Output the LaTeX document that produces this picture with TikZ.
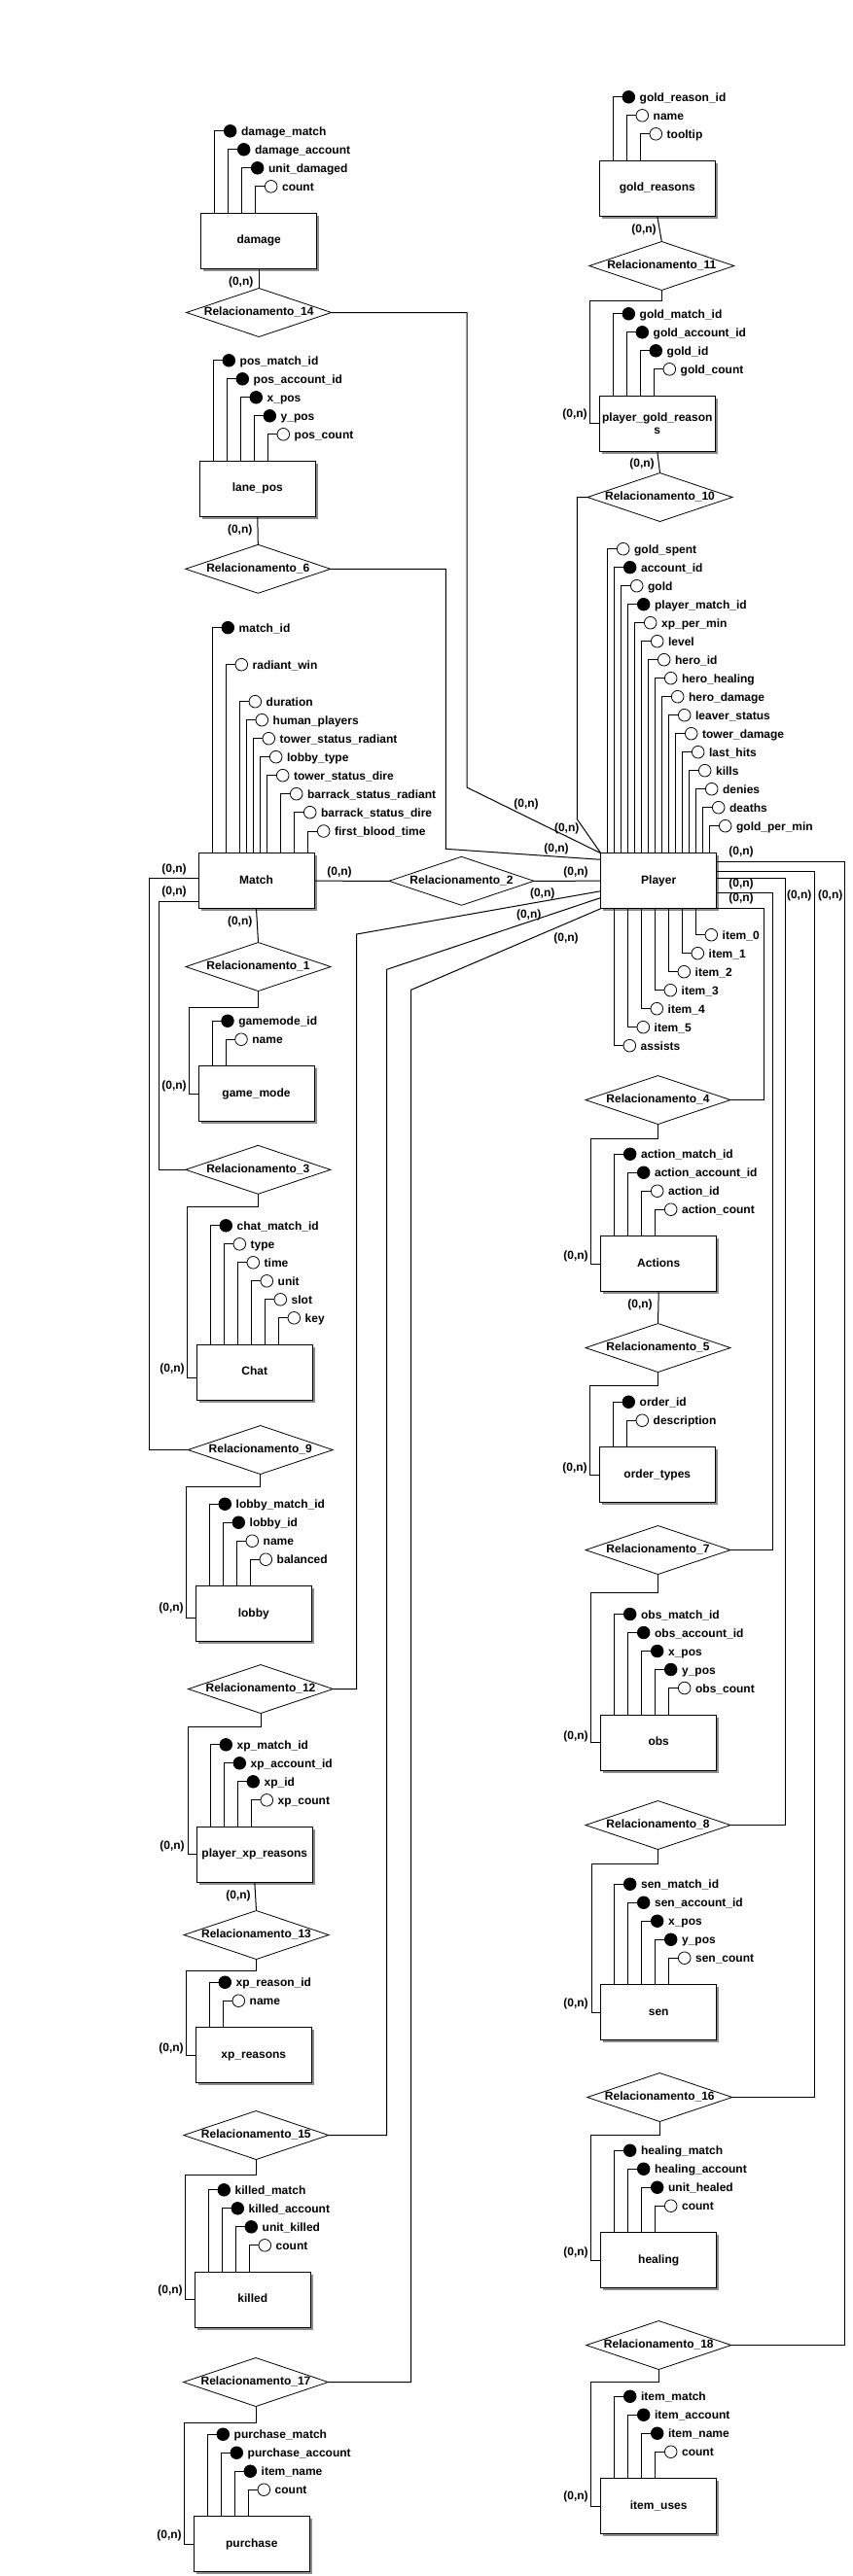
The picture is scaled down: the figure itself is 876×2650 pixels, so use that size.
\documentclass[tikz,border=0pt]{standalone}
\usepackage{fontspec}
\setmainfont{Liberation Sans}
\usetikzlibrary{shapes.geometric,shadows}
\colorlet{attrf}{black}
\colorlet{attro}{white}
\tikzset{
  conn/.style={draw=black, line width=1pt},
  entbase/.style={rectangle, draw=black, line width=1pt, fill=white, minimum width=119pt, minimum height=57pt, inner sep=0pt, outer sep=0pt, anchor=north west, drop shadow={shadow xshift=2.5pt, shadow yshift=-2.5pt, fill=black!45, opacity=1}},
  ent/.style={entbase, text height=8pt, text depth=2pt},
  rel/.style={diamond, draw=black, line width=0.8pt, fill=white, minimum width=149pt, minimum height=50pt, inner sep=0pt, outer sep=0pt, text height=8pt, text depth=2pt},
  atc/.style={circle, draw=black, line width=0.8pt, minimum size=12.6pt, inner sep=0pt, outer sep=0pt},
  attext/.style={anchor=base west, inner sep=0pt, outer sep=0pt},
  card/.style={inner sep=0pt, text height=8pt, text depth=2pt},
}
% #1 entity, #2 id, #3 anchor, #4 x of vertical, #5 y of circle, #6 f/o, #7 text
\newcommand\erattr[7]{%
  \node[atc, fill=attr#6] (#1-a#2) at (#4+16,#5) {};
  \node[attext] (#1-t#2) at (#4+27.4,#5+4.5) {#7};
  \draw[conn] (#1.#3 -| #4,0) |- (#1-a#2.west);
}
% #1 entity, #2 left, #3 top, #4 n, #5 list
\newcommand\eratts[5]{%
  \foreach \ty/\tx [count=\i from 0] in {#5} {
    \pgfmathsetmacro\vx{#2+14*(\i+1)}
    \pgfmathsetmacro\cy{#3-27.5-19*(#4-1-\i)}
    \erattr{#1}{\i}{north}{\vx}{\cy}{\ty}{\tx}
  }}
\begin{document}
\begin{tikzpicture}[x=1pt,y=-1pt,font=\fontsize{12}{14}\selectfont\bfseries]
\fill[white] (0,0) rectangle (876,2650);
\useasboundingbox (0,0) rectangle (876,2650);

% ---------- entities ----------
\node[ent] (damage) at (206.7,219.3) {damage};
\node[ent] (lanepos) at (205.3,474.3) {lane\_pos};
\node[ent] (match) at (204,877.7) {Match};
\node[ent] (gamemode) at (204,1096.7) {game\_mode};
\node[ent] (chat) at (202.3,1383.3) {Chat};
\node[ent] (lobby) at (201.3,1631.7) {lobby};
\node[ent] (pxr) at (202.3,1879.3) {player\_xp\_reasons};
\node[ent] (xpr) at (201.3,2085.7) {xp\_reasons};
\node[ent] (killed) at (200.3,2337.3) {killed};
\node[ent] (purchase) at (199.3,2588.7) {purchase};
\node[ent] (goldr) at (616.3,165.3) {gold\_reasons};
\node[entbase, align=center, font=\fontsize{12}{12.3}\selectfont\bfseries] (pgr) at (616.3,407.3) {player\_gold\_reason\\s};
\node[ent] (player) at (617.7,877.7) {Player};
\node[ent] (actions) at (617.7,1271.7) {Actions};
\node[ent] (ordert) at (616.3,1488.7) {order\_types};
\node[ent] (obs) at (617.7,1764) {obs};
\node[ent] (sen) at (617.7,2041.7) {sen};
\node[ent] (healing) at (617.7,2296.7) {healing};
\node[ent] (itemuses) at (617.7,2549.7) {item\_uses};

% ---------- relationships ----------
\node[rel] (r14) at (266.2,321.5) {\makebox[0pt]{Relacionamento\_14}};
\node[rel] (r6) at (265.3,585.3) {\makebox[0pt]{Relacionamento\_6}};
\node[rel] (r1) at (265.5,994.5) {\makebox[0pt]{Relacionamento\_1}};
\node[rel] (r3) at (265.3,1203.3) {\makebox[0pt]{Relacionamento\_3}};
\node[rel] (r9) at (267.7,1491.5) {\makebox[0pt]{Relacionamento\_9}};
\node[rel] (r12) at (268,1737.5) {\makebox[0pt]{Relacionamento\_12}};
\node[rel] (r13) at (263.5,1990.5) {\makebox[0pt]{Relacionamento\_13}};
\node[rel] (r15) at (263.3,2196.5) {\makebox[0pt]{Relacionamento\_15}};
\node[rel] (r17) at (263,2450.5) {\makebox[0pt]{Relacionamento\_17}};
\node[rel] (r2) at (474.5,906.3) {\makebox[0pt]{Relacionamento\_2}};
\node[rel] (r11) at (680.3,273.5) {\makebox[0pt]{Relacionamento\_11}};
\node[rel] (r10) at (678.5,511.5) {\makebox[0pt]{Relacionamento\_10}};
\node[rel] (r4) at (676.5,1131.5) {\makebox[0pt]{Relacionamento\_4}};
\node[rel] (r5) at (676.5,1386.5) {\makebox[0pt]{Relacionamento\_5}};
\node[rel] (r7) at (676.5,1594.5) {\makebox[0pt]{Relacionamento\_7}};
\node[rel] (r8) at (676.5,1877.5) {\makebox[0pt]{Relacionamento\_8}};
\node[rel] (r16) at (678.3,2157.5) {\makebox[0pt]{Relacionamento\_16}};
\node[rel] (r18) at (677.3,2412.5) {\makebox[0pt]{Relacionamento\_18}};

% ---------- attributes ----------
\eratts{damage}{206.7}{219.3}{4}{f/damage\_match, f/damage\_account, f/unit\_damaged, o/count}
\eratts{lanepos}{205.3}{474.3}{5}{f/pos\_match\_id, f/pos\_account\_id, f/x\_pos, f/y\_pos, o/pos\_count}
\eratts{gamemode}{204}{1096.7}{2}{f/gamemode\_id, o/name}
\eratts{chat}{202.3}{1383.3}{6}{f/chat\_match\_id, o/type, o/time, o/unit, o/slot, o/key}
\eratts{lobby}{201.3}{1631.7}{4}{f/lobby\_match\_id, f/lobby\_id, o/name, o/balanced}
\eratts{pxr}{202.3}{1879.3}{4}{f/xp\_match\_id, f/xp\_account\_id, f/xp\_id, o/xp\_count}
\eratts{xpr}{201.3}{2085.7}{2}{f/xp\_reason\_id, o/name}
\eratts{killed}{200.3}{2337.3}{4}{f/killed\_match, f/killed\_account, f/unit\_killed, o/count}
\eratts{purchase}{199.3}{2588.7}{4}{f/purchase\_match, f/purchase\_account, f/item\_name, o/count}
\eratts{goldr}{616.3}{165.3}{3}{f/gold\_reason\_id, o/name, o/tooltip}
\eratts{pgr}{616.3}{407.3}{4}{f/gold\_match\_id, f/gold\_account\_id, f/gold\_id, o/gold\_count}
\eratts{actions}{617.7}{1271.7}{4}{f/action\_match\_id, f/action\_account\_id, o/action\_id, o/action\_count}
\eratts{ordert}{616.3}{1488.7}{2}{f/order\_id, o/description}
\eratts{obs}{617.7}{1764}{5}{f/obs\_match\_id, f/obs\_account\_id, f/x\_pos, f/y\_pos, o/obs\_count}
\eratts{sen}{617.7}{2041.7}{5}{f/sen\_match\_id, f/sen\_account\_id, f/x\_pos, f/y\_pos, o/sen\_count}
\eratts{healing}{617.7}{2296.7}{4}{f/healing\_match, f/healing\_account, f/unit\_healed, o/count}
\eratts{itemuses}{617.7}{2549.7}{4}{f/item\_match, f/item\_account, f/item\_name, o/count}

\foreach \vx/\cy/\ty/\tx [count=\i from 0] in {218.3/645.7/f/match\_id, 232.3/683.7/o/radiant\_win, 246.3/721.7/o/duration, 253.3/740.7/o/human\_players, 260.3/759.7/o/tower\_status\_radiant, 267.7/778.7/o/lobby\_type, 274.7/797.7/o/tower\_status\_dire, 288.7/816.7/o/barrack\_status\_radiant, 302.7/835.7/o/barrack\_status\_dire, 316.7/855/o/first\_blood\_time}
  {\erattr{match}{\i}{north}{\vx}{\cy}{\ty}{\tx}}

\foreach \ty/\tx [count=\i from 0] in {o/gold\_spent, f/account\_id, o/gold, f/player\_match\_id, o/xp\_per\_min, o/level, o/hero\_id, o/hero\_healing, o/hero\_damage, o/leaver\_status, o/tower\_damage, o/last\_hits, o/kills, o/denies, o/deaths, o/gold\_per\_min}
  {\pgfmathsetmacro\vx{624.7+7*\i}\pgfmathsetmacro\cy{564.7+19*\i}
   \erattr{player}{\i}{north}{\vx}{\cy}{\ty}{\tx}}

\foreach \tx [count=\i from 0] in {item\_0, item\_1, item\_2, item\_3, item\_4, item\_5, assists}
  {\pgfmathsetmacro\vx{715.3-14*\i}\pgfmathsetmacro\cy{961.7+19*\i}
   \erattr{player}{b\i}{south}{\vx}{\cy}{o}{\tx}}

% ---------- connectors ----------
\draw[conn] (damage.south) -- (r14.north);
\draw[conn] (r14.east) -| (480,810) -- (player.north west);
\draw[conn] (lanepos.south) -- (r6.north);
\draw[conn] (r6.east) -| (458.3,873.3) -- (player.west |- 0,884.3);
\draw[conn] (r10.west) -| (593.3,842.7) -- (player.north west);
\draw[conn] (match.east) -- (r2.west);
\draw[conn] (r2.east) -- (player.west);
\draw[conn] (player.west |- 0,916.7) -- (366.7,961) |- (r12.east);
\draw[conn] (player.west |- 0,923.5) -- (397.7,997.3) |- (r15.east);
\draw[conn] (player.south west) -- (422.7,1018.3) |- (r17.east);
\draw[conn] (match.south) -- (r1.north);
\draw[conn] (r1.south) |- (194.3,1036) |- (gamemode.west);
\draw[conn] (match.west |- 0,903.3) -| (153,1491.5) -- (r9.west);
\draw[conn] (match.west |- 0,927.3) -| (163,1203.3) -- (r3.west);
\draw[conn] (r3.south) |- (192.3,1241) |- (chat.west |- 0,1417.3);
\draw[conn] (r9.south) |- (191.3,1529.3) |- (lobby.west |- 0,1664);
\draw[conn] (r12.south) |- (193,1776) |- (pxr.west);
\draw[conn] (pxr.south) -- (r13.north);
\draw[conn] (r13.south) |- (191.3,2027.3) |- (xpr.west);
\draw[conn] (r15.south) |- (190.3,2237.3) |- (killed.west);
\draw[conn] (r17.south) |- (189.3,2492.3) |- (purchase.west);
\draw[conn] (goldr.south) -- (r11.north);
\draw[conn] (r11.south) |- (606.7,309.3) |- (pgr.west);
\draw[conn] (pgr.south) -- (r10.north);
\draw[conn] (player.south east) -| (785.3,1131.5) -- (r4.east);
\draw[conn] (player.east |- 0,918.3) -| (794,1594.5) -- (r7.east);
\draw[conn] (player.east |- 0,903.3) -| (807.7,1877.5) -- (r8.east);
\draw[conn] (player.east |- 0,896) -| (837.3,2157.5) -- (r16.east);
\draw[conn] (player.east |- 0,886.5) -| (868.5,2412.5) -- (r18.east);
\draw[conn] (r4.south) |- (607.3,1171) |- (actions.west);
\draw[conn] (actions.south) -- (r5.north);
\draw[conn] (r5.south) |- (606.3,1425.3) |- (ordert.west);
\draw[conn] (r7.south) |- (607.3,1638.3) |- (obs.west);
\draw[conn] (r8.south) |- (608.3,1917.3) |- (sen.west);
\draw[conn] (r16.south) |- (607.3,2196.7) |- (healing.west);
\draw[conn] (r18.south) |- (607.3,2450) |- (itemuses.west);

% ---------- cardinalities ----------
\foreach \x/\y [count=\k] in {247.7/290, 541/827.7, 246.7/545, 572/873.3, 582.7/852.3, 662/236, 591/426.7, 660/477.7, 349/897.7, 592/897.7, 557.7/919.3, 543.7/941, 582/965, 762/876.7, 762/909, 762/924.3, 821.7/921, 853.7/921, 246.7/948, 179/1117.7, 179/894, 179/917.7, 177/1408, 176/1654.7, 177/1899, 245/1950, 176/2107.3, 175/2356.7, 174/2608.7, 592/1292.3, 658/1342, 591/1510, 592/1786, 592/2061.7, 592/2317.3, 592/2568}
  {\node[card] (c\k) at (\x,\y) {(0,n)};}
\end{tikzpicture}
\end{document}
